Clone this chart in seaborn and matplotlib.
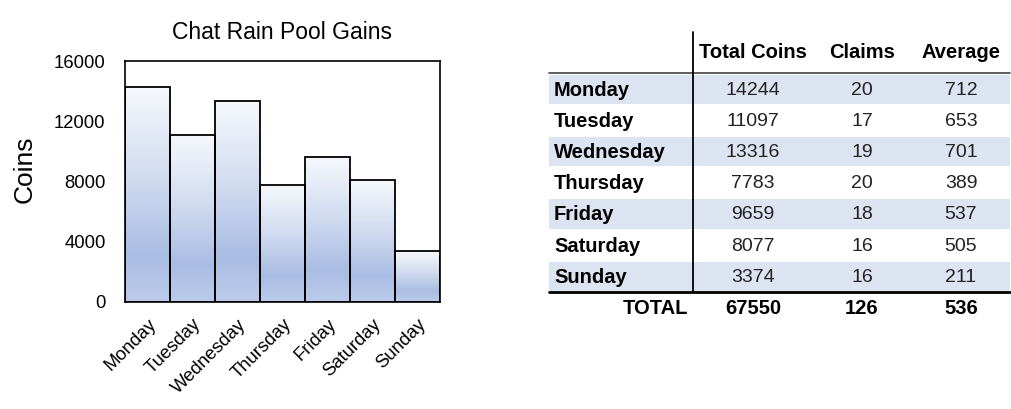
import numpy as np
import pandas as pd
import seaborn as sns
import matplotlib.pyplot as plt
from matplotlib.colors import LinearSegmentedColormap

# data
days = ['Monday', 'Tuesday', 'Wednesday', 'Thursday', 'Friday', 'Saturday', 'Sunday']
total_coins = [14244, 11097, 13316, 7783, 9659, 8077, 3374]
claims = [20, 17, 19, 20, 18, 16, 16]
average = [712, 653, 701, 389, 537, 505, 211]
total_row = ['TOTAL', 67550, 126, 536]
headers = ['Total Coins', 'Claims', 'Average']

sns.set_style('white')
plt.rcParams['font.family'] = ['Liberation Sans', 'DejaVu Sans']
plt.rcParams['text.color'] = 'black'
plt.rcParams['xtick.color'] = 'black'
plt.rcParams['ytick.color'] = 'black'
plt.rcParams['axes.labelcolor'] = 'black'

df = pd.DataFrame({'day': days, 'coins': total_coins})

W, H = 1012, 409
fig = plt.figure(figsize=(W / 100, H / 100), dpi=100)

# bar chart
ax = fig.add_axes([125 / W, (H - 302) / H, 315 / W, 241 / H])
sns.barplot(data=df, x='day', y='coins', width=1.0, color='white',
            edgecolor='black', linewidth=1.3, ax=ax, zorder=3)
ax.set_ylim(0, 16000)
ax.set_yticks([0, 4000, 8000, 12000, 16000])
ax.set_title('Chat Rain Pool Gains', fontsize=16.5, pad=16)
ax.set_ylabel('Coins', fontsize=19)
ax.yaxis.set_label_coords(-0.28, 0.55)
ax.set_xlabel('')
ax.tick_params(axis='y', labelsize=13.3, length=0, pad=14)
ax.tick_params(axis='x', labelsize=13.3, length=0, pad=10)
plt.setp(ax.get_xticklabels(), rotation=45, ha='right', rotation_mode='anchor')
for s in ax.spines.values():
    s.set_visible(True)
    s.set_color('black')
    s.set_linewidth(1.2)

# vertical gradient fill per bar
grad_cmap = LinearSegmentedColormap.from_list(
    'g', [(0.0, '#f6f8fc'), (0.4, '#d3ddf1'), (0.78, '#a9bde3'), (1.0, '#bccbea')])
grad = np.linspace(0, 1, 256).reshape(-1, 1)
for p in ax.patches:
    x0, y0 = p.get_x(), p.get_y()
    w, h = p.get_width(), p.get_height()
    im = ax.imshow(grad, cmap=grad_cmap, aspect='auto', origin='upper',
                   extent=[x0, x0 + w, y0, y0 + h], zorder=2.5)
    im.set_clip_path(p)
    p.set_facecolor('none')
ax.set_xlim(-0.5, len(days) - 0.5)
ax.set_ylim(0, 16000)

# table drawn on an overlay axes in pixel units
tx = fig.add_axes([0, 0, 1, 1])
tx.set_xlim(0, W)
tx.set_ylim(H, 0)
tx.axis('off')

row_top = 74
row_h = 31.1
left, right = 549, 1010
col_x = [753, 862, 961]
shade = '#dde4f1'

for i, d in enumerate(days):
    y0 = row_top + i * row_h
    yc = y0 + row_h / 2 + 1
    if i % 2 == 0:
        tx.fill_between([left, right], y0 + 1, y0 + row_h - 1, color=shade, lw=0)
    tx.text(554, yc, d, fontsize=14.5, fontweight='bold', va='center', ha='left')
    for cx, val in zip(col_x, [total_coins[i], claims[i], average[i]]):
        tx.text(cx, yc, str(val), fontsize=14, va='center', ha='center', color='#222222')

for cx, hdr in zip(col_x, headers):
    tx.text(cx, 53, hdr, fontsize=14.5, fontweight='bold', va='center', ha='center')

bottom = row_top + len(days) * row_h
tx.plot([left, right], [row_top - 1, row_top - 1], color='#444444', lw=1.2)
tx.plot([left, right], [bottom, bottom], color='black', lw=2)
tx.plot([693, 693], [32, bottom], color='black', lw=1.3)

yt = bottom + 17
tx.text(688, yt, total_row[0], fontsize=14.5, fontweight='bold', va='center', ha='right')
for cx, val in zip(col_x, total_row[1:]):
    tx.text(cx, yt, str(val), fontsize=14.5, fontweight='bold', va='center', ha='center')

fig.savefig('out.png', dpi=100)
